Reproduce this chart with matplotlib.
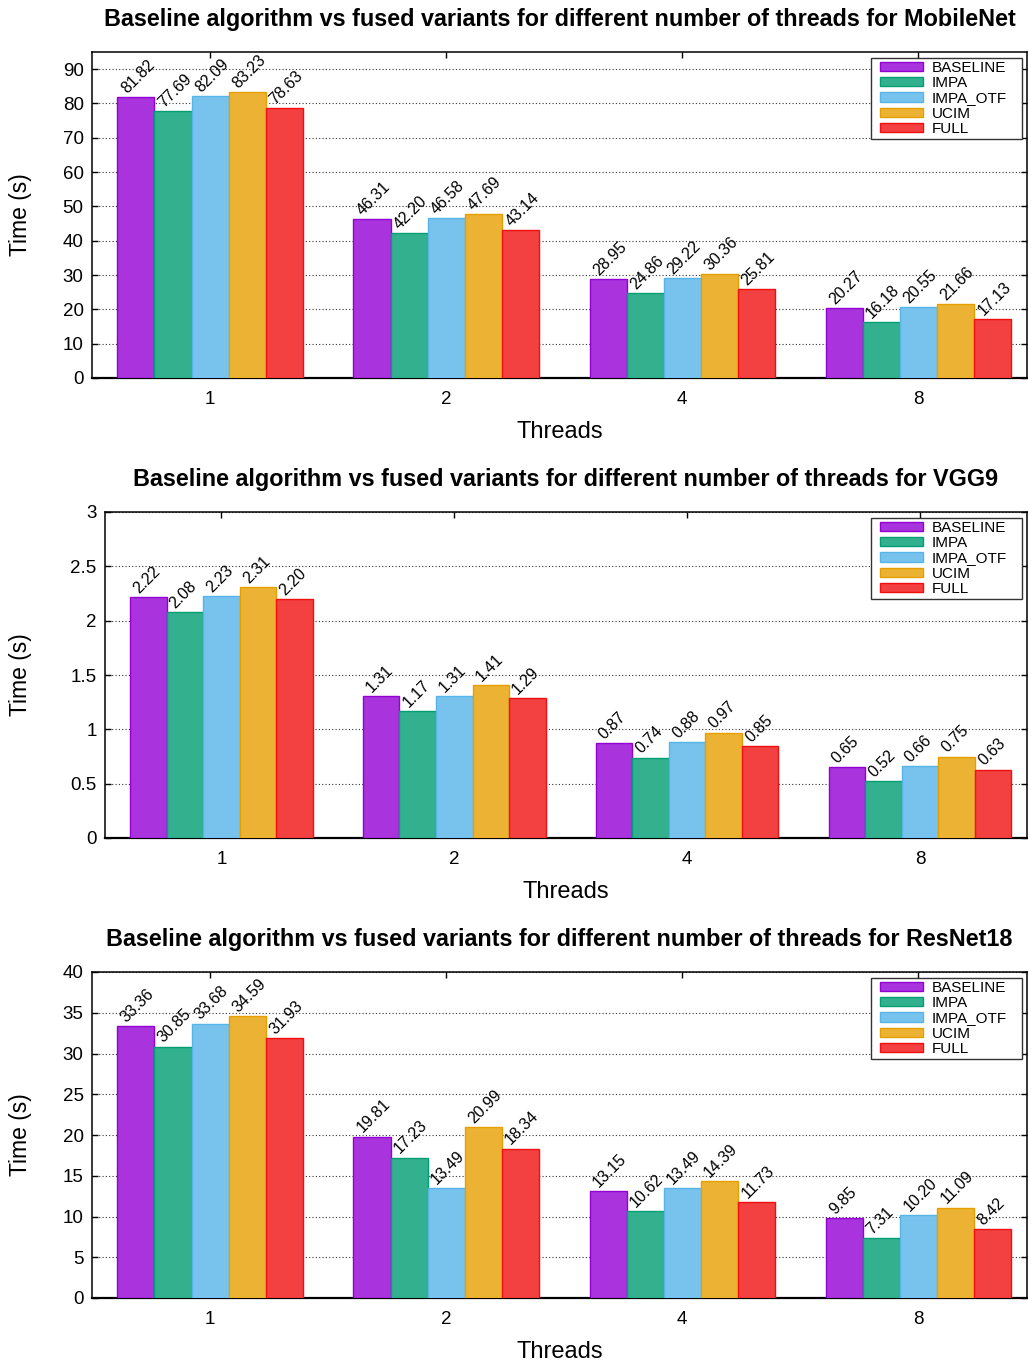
import numpy as np
import matplotlib
matplotlib.use("Agg")
from matplotlib import pyplot as plt
from matplotlib.colors import to_rgb
from matplotlib.patches import Rectangle

plt.rcParams['font.family'] = ['Liberation Sans', 'DejaVu Sans']

threads = ['1', '2', '4', '8']
variants = ['BASELINE', 'IMPA', 'IMPA_OTF', 'UCIM', 'FULL']
edge_colors = ['#9400d3', '#009e73', '#56b4e9', '#e69f00', '#f01010']

# times in seconds, one list per variant, ordered like threads
mobilenet_baseline = [81.82, 46.31, 28.95, 20.27]
mobilenet_impa = [77.69, 42.20, 24.86, 16.18]
mobilenet_impa_otf = [82.09, 46.58, 29.22, 20.55]
mobilenet_ucim = [83.23, 47.69, 30.36, 21.66]
mobilenet_full = [78.63, 43.14, 25.81, 17.13]

vgg9_baseline = [2.22, 1.31, 0.87, 0.65]
vgg9_impa = [2.08, 1.17, 0.74, 0.52]
vgg9_impa_otf = [2.23, 1.31, 0.88, 0.66]
vgg9_ucim = [2.31, 1.41, 0.97, 0.75]
vgg9_full = [2.20, 1.29, 0.85, 0.63]

resnet18_baseline = [33.36, 19.81, 13.15, 9.85]
resnet18_impa = [30.85, 17.23, 10.62, 7.31]
resnet18_impa_otf = [33.68, 13.49, 13.49, 10.20]
resnet18_ucim = [34.59, 20.99, 14.39, 11.09]
resnet18_full = [31.93, 18.34, 11.73, 8.42]

W, H = 1028, 1364


def fill_color(c, shade=0.8):
    r, g, b = to_rgb(c)
    return (shade * r + 1 - shade, shade * g + 1 - shade, shade * b + 1 - shade)


def box(left, top, right, bottom):
    return [left / W, 1 - bottom / H, (right - left) / W, (bottom - top) / H]


def plot_panel(fig, rect, name, series, yticks, ymax):
    ax = fig.add_axes(rect)
    x = np.arange(len(threads))
    width = 0.157
    for i, (label, values) in enumerate(zip(variants, series)):
        pos = x + (i - 2) * width
        bars = ax.bar(pos, values, width, label=label,
                      color=fill_color(edge_colors[i]),
                      edgecolor=edge_colors[i], linewidth=1.0, zorder=3)
        for b, v in zip(bars, values):
            ax.annotate('%.2f' % v, (b.get_x() + b.get_width() / 2, v),
                        xytext=(-7, 1), textcoords='offset pixels',
                        rotation=45, rotation_mode='anchor',
                        ha='left', va='bottom', fontsize=11.5, zorder=4)

    ax.set_xlim(-0.5, 3.46)
    ax.set_ylim(0, ymax)
    ax.set_xticks(x)
    ax.set_xticklabels(threads)
    ax.set_yticks(yticks)
    ax.set_yticklabels(['%g' % t for t in yticks])
    ax.tick_params(direction='in', length=4.5, width=1, top=True, right=True,
                   labelsize=13.5, pad=6)
    ax.tick_params(axis='x', pad=9)
    ax.yaxis.grid(True, linestyle=(0, (1, 2)), color='#333333', linewidth=0.8)
    ax.set_axisbelow(True)
    for s in ax.spines.values():
        s.set_linewidth(1.1)
    ax.spines['bottom'].set_linewidth(1.6)

    ax.set_title('Baseline algorithm vs fused variants for different number of threads for ' + name,
                 fontsize=16.8, fontweight='bold', pad=19)
    ax.set_xlabel('Threads', fontsize=17, labelpad=10)
    ax.set_ylabel('Time (s)', fontsize=16.5)
    ax.yaxis.set_label_coords(20 / W, rect[1] + rect[3] / 2, transform=fig.transFigure)
    ax.yaxis.label.set_va('center')

    # legend box drawn by hand so it can be wider than its entries
    leg = ax.legend(loc='upper right', bbox_to_anchor=(1 - 20 / (rect[2] * W), 1 - 9 / (rect[3] * H)),
                    fontsize=11, frameon=False, handlelength=2.8,
                    handleheight=0.55, labelspacing=0.08, borderpad=0.0,
                    borderaxespad=0.0, handletextpad=0.6)
    return leg


def frame_legends(fig, legends):
    fig.canvas.draw()
    inv = fig.transFigure.inverted()
    for leg in legends:
        bb = leg.get_window_extent()
        (x0, y0), (x1, y1) = inv.transform([(bb.x0 - 9, bb.y0 - 3), (bb.x1 + 15, bb.y1 + 3)])
        fig.patches.append(Rectangle((x0, y0), x1 - x0, y1 - y0, transform=fig.transFigure,
                                     facecolor='white', edgecolor='#333333', linewidth=1.0,
                                     zorder=5))
        leg.set_zorder(6)
        leg.remove()
        fig.legends.append(leg)


def main():
    fig = plt.figure(figsize=(W / 100, H / 100), dpi=100)
    legends = []
    legends.append(plot_panel(fig, box(92, 52, 1027, 378), 'MobileNet',
                              [mobilenet_baseline, mobilenet_impa, mobilenet_impa_otf,
                               mobilenet_ucim, mobilenet_full],
                              np.arange(0, 91, 10), 95))
    legends.append(plot_panel(fig, box(105, 512, 1027, 838), 'VGG9',
                              [vgg9_baseline, vgg9_impa, vgg9_impa_otf, vgg9_ucim, vgg9_full],
                              np.arange(0, 3.01, 0.5), 3))
    legends.append(plot_panel(fig, box(92, 972, 1027, 1298), 'ResNet18',
                              [resnet18_baseline, resnet18_impa, resnet18_impa_otf,
                               resnet18_ucim, resnet18_full],
                              np.arange(0, 41, 5), 40))
    frame_legends(fig, legends)
    fig.savefig('out.png', dpi=100)


if __name__ == '__main__':
    main()
